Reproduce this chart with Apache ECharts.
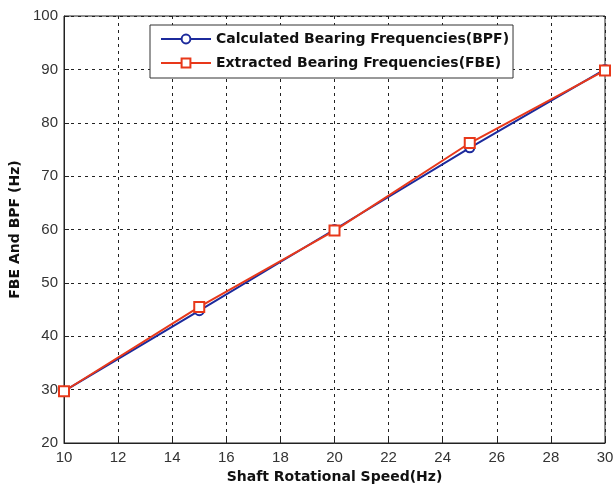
<!DOCTYPE html>
<html>
<head>
<meta charset="utf-8">
<script src="https://cdn.jsdelivr.net/npm/echarts@6/dist/echarts.min.js"></script>
<style>
  html, body { margin: 0; padding: 0; background: #fff; }
  #chart { width: 614px; height: 486px; }
</style>
</head>
<body>
<div id="chart"></div>
<script>
  // shaft speed (Hz)
  const speeds = [10, 15, 20, 25, 30];
  // calculated bearing frequencies
  const bpf = [29.7, 44.8, 60.0, 75.3, 90.0];
  // extracted bearing frequencies
  const fbe = [29.7, 45.5, 59.8, 76.2, 89.8];

  const pairs = (xs, ys) => xs.map((x, i) => [x, ys[i]]);

  const boldFont = { fontFamily: 'DejaVu Sans', fontWeight: 'bold', fontSize: 14, color: '#111' };
  const tickFont = { fontFamily: 'Liberation Sans', fontSize: 15, color: '#333' };

  const chart = echarts.init(document.getElementById('chart'));
  const option = {
    animation: false,
    backgroundColor: '#fff',
    grid: {
      left: 64, top: 16, right: 9, bottom: 43,
      outerBoundsMode: 'none',
      containLabel: false,
      show: true, borderColor: '#222', borderWidth: 1
    },
    legend: {
      orient: 'vertical',
      left: 150, top: 25,
      backgroundColor: '#fff',
      borderColor: '#333', borderWidth: 1,
      padding: [7, 4, 8, 10],
      itemGap: 10,
      itemWidth: 50, itemHeight: 11,
      textStyle: boldFont,
      data: ['Calculated Bearing Frequencies(BPF)', 'Extracted Bearing Frequencies(FBE)']
    },
    xAxis: {
      type: 'value',
      min: 10, max: 30, interval: 2,
      name: 'Shaft Rotational Speed(Hz)',
      nameLocation: 'middle', nameGap: 26,
      nameTextStyle: boldFont,
      axisLine: { lineStyle: { color: '#222' } },
      axisTick: { inside: true, length: 5, lineStyle: { color: '#222' } },
      axisLabel: Object.assign({ margin: 7 }, tickFont),
      splitLine: { show: true, lineStyle: { color: '#222', type: [3, 4], width: 1 } }
    },
    yAxis: {
      type: 'value',
      min: 20, max: 100, interval: 10,
      name: 'FBE And BPF (Hz)',
      nameLocation: 'middle', nameGap: 42,
      nameTextStyle: boldFont,
      axisLine: { lineStyle: { color: '#222' } },
      axisTick: { inside: true, length: 5, lineStyle: { color: '#222' } },
      axisLabel: Object.assign({ margin: 6 }, tickFont),
      splitLine: { show: true, lineStyle: { color: '#222', type: [3, 4], width: 1 } }
    },
    series: [
      {
        name: 'Calculated Bearing Frequencies(BPF)',
        type: 'line',
        data: pairs(speeds, bpf),
        symbol: 'emptyCircle', symbolSize: 9,
        lineStyle: { color: '#1c2a9c', width: 2 },
        itemStyle: { color: '#1c2a9c', borderWidth: 1.5 }
      },
      {
        name: 'Extracted Bearing Frequencies(FBE)',
        type: 'line',
        data: pairs(speeds, fbe),
        symbol: 'emptyRect', symbolSize: 10,
        lineStyle: { color: '#e8381a', width: 2 },
        itemStyle: { color: '#e8381a', borderWidth: 2 }
      }
    ]
  };
  chart.setOption(option);
</script>
</body>
</html>
